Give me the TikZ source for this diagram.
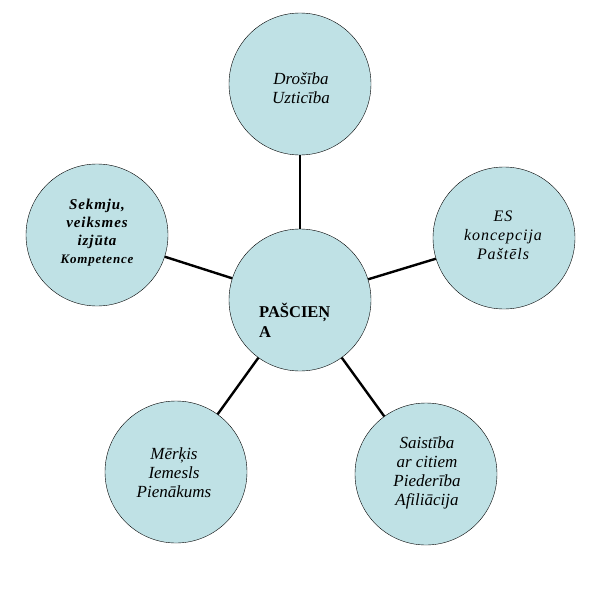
\documentclass[tikz,border=0pt]{standalone}
\usepackage{fontspec}
\setmainfont{Liberation Serif}
\newfontfamily\spacedserif[LetterSpace=6]{Liberation Serif}
\definecolor{bubblefill}{RGB}{191,225,229}

\begin{document}
\begin{tikzpicture}[
	x=1pt, y=-1pt,
	bubble/.style={ circle, draw, thin, fill=bubblefill, inner sep=0pt, minimum size=142pt },
	spoke/.style={ line width=2.4pt },
	bubbletext/.style={ align=center, inner sep=0pt, font=\fontsize{17}{19}\selectfont\itshape }
]
	\useasboundingbox (0,0) rectangle (600,600);

	% the self in the middle, five needs round it
	\node[bubble] (self) at (300,300) {};
	\node[bubble] (safety) at (300,84) {};
	\node[bubble] (ego) at (504,238) {};
	\node[bubble] (belong) at (426,474) {};
	\node[bubble] (purpose) at (176,472) {};
	\node[bubble] (success) at (97,235) {};
	\foreach \n in {safety,ego,belong,purpose,success} { \draw[spoke] (self) -- (\n); }

	\node[anchor=west, align=left, inner sep=0pt, font=\fontsize{16.5}{20}\selectfont\bfseries] (selftext) at (259,320) {PAŠCIEŅ\\A};
	\node[bubbletext] (safetytext) at (301,88) {Drošība\\Uzticība};
	\node[bubbletext, font=\fontsize{16}{19}\selectfont\spacedserif\itshape] (egotext) at (503,235) {ES\\koncepcija\\Paštēls};
	\node[bubbletext] (belongtext) at (427,473) {Saistība\\ar citiem\\Piederība\\Afiliācija};
	\node[bubbletext] (purposetext) at (174,473) {Mērķis\\Iemesls\\Pienākums};
	\node[bubbletext, font=\fontsize{15}{18}\selectfont\spacedserif\bfseries\itshape] (successtext) at (97,233) {Sekmju,\\veiksmes\\izjūta\\{\fontsize{13}{16}\selectfont Kompetence}};
\end{tikzpicture}
\end{document}
